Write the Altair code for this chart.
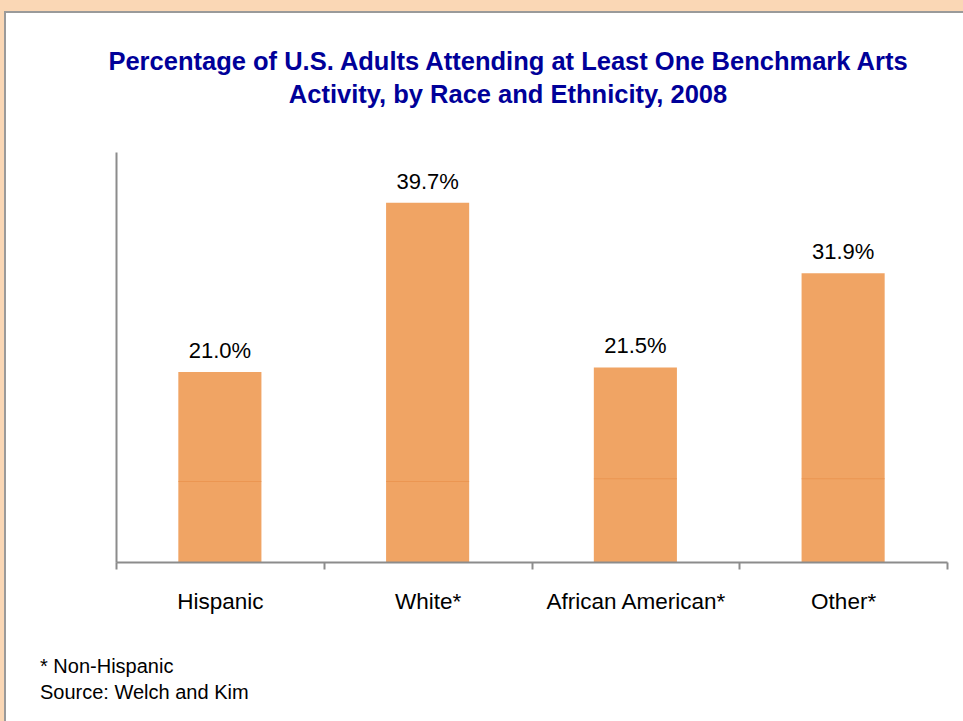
import altair as alt
import pandas as pd

categories = ["Hispanic", "White*", "African American*", "Other*"]
values = [21.0, 39.7, 21.5, 31.9]
labels = ["21.0%", "39.7%", "21.5%", "31.9%"]
band_line = [8.9, 8.9, 9.2, 9.2]
title_text = ("Percentage of U.S. Adults Attending at Least One Benchmark Arts\n"
              "Activity, by Race and Ethnicity, 2008")
footnote = "* Non-Hispanic\nSource: Welch and Kim"

df = pd.DataFrame({"cat": categories, "val": values, "label": labels, "line": band_line})

W, H = 831, 410
PL, PT = 116, 152

x_enc = alt.X("cat:N", sort=categories,
              scale=alt.Scale(paddingInner=0, paddingOuter=0),
              axis=alt.Axis(title=None, labelAngle=0, labelFontSize=22.5, labelColor="#000000",
                            labelFont="Liberation Sans", labelPadding=21, labelLimit=0,
                            tickBand="extent", tickSize=7, tickColor="#8c8c8c", tickWidth=2,
                            domainColor="#8c8c8c", domainWidth=2, zindex=1))
y_scale = alt.Scale(domain=[0, 45.3], nice=False)

panel = alt.Chart(alt.Data(values=[{}])).mark_rect(
    fill="#ffffff", stroke="#9a9a9a", strokeWidth=2
).encode(
    x=alt.value(5 - PL), x2=alt.value(963 - PL + 10),
    y=alt.value(12 - PT), y2=alt.value(721 - PT + 10),
)

bars = alt.Chart(df).mark_bar(color="#F0A464", width=alt.RelativeBandSize(0.4)).encode(
    x=x_enc,
    y=alt.Y("val:Q", scale=y_scale,
            axis=alt.Axis(title=None, labels=False, ticks=False, grid=False,
                          domainColor="#8c8c8c", domainWidth=2, zindex=1)),
)

inner = alt.Chart(df).mark_tick(color="#E8904A", thickness=1, size=83).encode(
    x=alt.X("cat:N", sort=categories),
    y=alt.Y("line:Q", scale=y_scale),
)

text = alt.Chart(df).mark_text(baseline="alphabetic", dy=-14, fontSize=22,
                               font="Liberation Sans", color="#000000").encode(
    x=alt.X("cat:N", sort=categories),
    y=alt.Y("val:Q", scale=y_scale),
    text="label:N",
)

title = alt.Chart(alt.Data(values=[{}])).mark_text(
    align="center", baseline="alphabetic", fontSize=25.5, font="Liberation Sans",
    fontWeight="bold", color="#000099", lineBreak="\n", lineHeight=33
).encode(
    x=alt.value(508 - PL), y=alt.value(70 - PT), text=alt.value(title_text)
)

foot = alt.Chart(alt.Data(values=[{}])).mark_text(
    align="left", baseline="alphabetic", fontSize=20, font="Liberation Sans",
    color="#000000", lineBreak="\n", lineHeight=26
).encode(
    x=alt.value(40 - PL), y=alt.value(673 - PT), text=alt.value(footnote)
)

chart = alt.layer(panel, bars, inner, text, title, foot).properties(
    width=W, height=H,
    autosize=alt.AutoSizeParams(type="none"),
    padding={"left": PL, "top": PT, "right": 963 - PL - W, "bottom": 721 - PT - H},
    background="#FAD7B5",
).configure_view(stroke=None)

chart.save("out.html", embed_options={"renderer": "svg", "actions": False})
